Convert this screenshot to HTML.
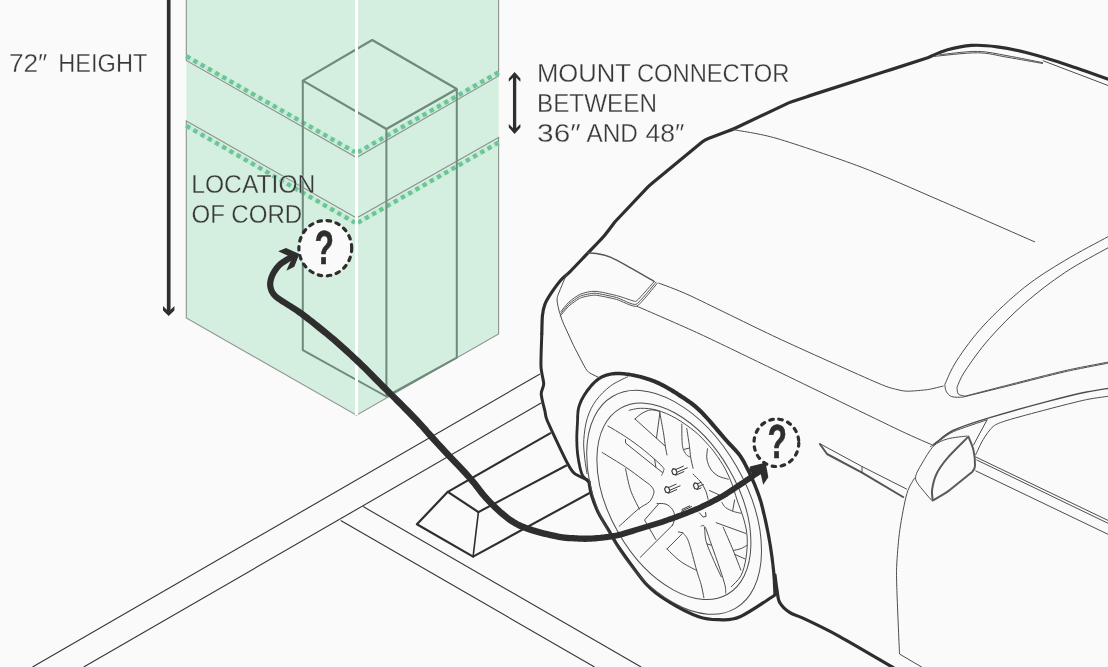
<!DOCTYPE html>
<html lang="en">
<head>
<meta charset="utf-8">
<title>Wall Connector mounting location</title>
<style>
html,body{margin:0;padding:0;background:#fafafa;}
body{width:1108px;height:667px;overflow:hidden;font-family:"Liberation Sans",sans-serif;}
svg{display:block;}
svg{will-change:transform;}
</style>
</head>
<body>
<svg width="1108" height="667" viewBox="0 0 1108 667">
<rect width="1108" height="667" fill="#fafafa"/>
<g id="wall">
<path d="M186.3 -2L356.5 -2L356.5 415.2L186.3 318Z" fill="#d4eedf"/>
<path d="M356.5 -2L498.6 -2L498.6 334L356.5 415.3Z" fill="#d4eedf"/>
<path d="M186.3 -2L186.3 60.5L356.5 157.5L498.6 76L498.6 -2" fill="none" stroke="#8e9390" stroke-width="1.1" />
<path d="M356.5 218L186.3 121L186.3 318L356.5 415.2L498.6 334L498.6 137.5Z" fill="none" stroke="#8e9390" stroke-width="1.1" />
<path d="M186.3 56.2L356.5 153.0L498.6 72.3" fill="none" stroke="#c6ecd8" stroke-width="4.4" />
<path d="M186.3 56.2L355.0 152.2" fill="none" stroke="#6cc595" stroke-width="4.4" stroke-dasharray="4.4 3.9"/>
<path d="M498.6 72.3L358.0 152.2" fill="none" stroke="#6cc595" stroke-width="4.4" stroke-dasharray="4.4 3.9"/>
<path d="M186.3 125.8L356.5 223.5L498.6 142.5" fill="none" stroke="#c6ecd8" stroke-width="4.4" />
<path d="M186.3 125.8L355.0 222.7" fill="none" stroke="#6cc595" stroke-width="4.4" stroke-dasharray="4.4 3.9"/>
<path d="M498.6 142.5L358.0 222.7" fill="none" stroke="#6cc595" stroke-width="4.4" stroke-dasharray="4.4 3.9"/>
<path d="M302.8 80.6L372.2 40.0L456.8 89.0L386.4 129.0Z" fill="none" stroke="#6e8a7b" stroke-width="2.2" stroke-linejoin="round"/>
<path d="M302.8 80.6L302.8 350.2L386.4 396.5L456.8 357.7L456.8 89M386.4 129L386.4 396.5" fill="none" stroke="#6e8a7b" stroke-width="2" stroke-linejoin="round"/>
<path d="M356.5 -2L356.5 415" fill="none" stroke="#ffffff" stroke-width="3" />
</g>
<g id="ground">
<path d="M32.5 667.0L540.0 374.0" fill="none" stroke="#333" stroke-width="1.1" />
<path d="M83.7 667.0L541.5 402.7" fill="none" stroke="#333" stroke-width="1.1" />
<path d="M340.7 520.5L594.5 667" fill="none" stroke="#333" stroke-width="1.1" />
<path d="M363.2 506.6L641.1 667" fill="none" stroke="#333" stroke-width="1.1" />
<path d="M478.4 512.1L447.8 491.8L416.9 524.3L473.1 556.6" fill="none" stroke="#2e2e2e" stroke-width="2.2" stroke-linejoin="round" stroke-linecap="round"/>
<path d="M478.4 512.1L473.1 556.6" fill="none" stroke="#2e2e2e" stroke-width="1.6" stroke-linecap="round"/>
<path d="M447.8 491.8L550.9 432.9" fill="none" stroke="#2e2e2e" stroke-width="2.1" />
<path d="M478.4 512.1L566.8 465.3" fill="none" stroke="#2e2e2e" stroke-width="2.1" />
<path d="M473.1 556.6L589.6 493" fill="none" stroke="#2e2e2e" stroke-width="2.1" />
</g>
<g id="car">
<path d="M541.8 334.0C541.9 331.6 542.0 319.8 542.4 315.8C542.8 311.8 543.7 307.4 544.9 304.3C546.1 301.2 549.3 296.0 551.5 292.7C553.7 289.4 559.0 282.2 561.4 279.5C563.8 276.8 566.1 275.6 569.6 272.1C573.1 268.6 583.3 257.8 587.8 253.1C592.3 248.4 600.0 240.6 603.6 236.5C607.2 232.4 613.3 223.9 614.8 222.0L614.8 222.0L646.8 188.2Q649.6 185.3 652.7 182.8L702.1 142.1Q705.2 139.6 709.0 138.2L728.2 131.1Q732.0 129.7 735.6 128.0L785.0 104.6Q788.6 102.9 792.4 101.6L806.2 96.9Q810.0 95.6 813.8 94.4L884.2 71.8Q888.0 70.6 891.8 69.4L927.7 57.7L927.7 57.7C930.7 56.5 941.0 51.6 947.6 49.8C954.2 48.0 964.0 45.9 971.4 45.4C978.8 44.9 988.9 45.7 997.2 46.8C1005.5 47.9 1016.6 50.1 1027.0 52.8C1037.4 55.5 1054.0 60.5 1066.7 64.7C1079.5 68.9 1105.2 78.1 1112.0 80.5" fill="none" stroke="#2e2e2e" stroke-width="3.2" stroke-linejoin="round" stroke-linecap="round"/>
<path d="M541.8 334.0C541.7 338.3 540.7 359.8 541.0 366.5C541.3 373.2 543.7 380.3 543.7 384.0C543.7 387.7 541.0 390.3 541.2 394.0C541.4 397.7 544.2 408.0 545.0 411.5C545.8 415.0 545.1 415.4 547.0 420.0C548.9 424.6 556.0 439.7 558.9 445.8C561.8 451.9 566.7 462.0 568.8 465.7C570.9 469.4 572.3 471.7 574.7 473.6C577.1 475.5 584.8 478.5 586.7 479.6C588.6 480.7 588.7 481.3 589.0 481.6" fill="none" stroke="#2e2e2e" stroke-width="3" stroke-linejoin="round" stroke-linecap="round"/>
<path d="M590.0 481.0L589.6 480.6L589.1 480.2L588.5 479.7L587.9 479.2L587.3 478.7L586.7 478.1L586.0 477.5L585.3 476.8L584.7 476.0L584.2 475.2L583.6 474.4L583.2 473.4L582.8 472.4L582.4 471.1L582.0 469.8L581.6 468.3L581.2 466.8L580.9 465.2L580.6 463.6L580.3 462.0L580.0 460.4L579.7 458.8L579.5 457.2L579.3 455.8L579.1 454.4L578.9 453.1L578.8 451.7L578.7 450.4L578.5 449.1L578.5 447.8L578.4 446.5L578.3 445.2L578.3 443.9L578.3 442.6L578.2 441.3L578.2 440.0L578.2 438.7L578.2 437.4L578.2 436.0L578.2 434.7L578.3 433.4L578.3 432.1L578.4 430.8L578.5 429.5L578.6 428.1L578.6 426.8L578.7 425.4L578.8 424.1L578.9 422.7L578.9 421.3L579.0 419.8L579.0 418.4L579.1 417.0L579.1 415.5L579.2 414.1L579.3 412.7L579.5 411.4L579.7 410.1L579.9 408.8L580.2 407.6L580.6 406.4L580.9 405.2L581.4 404.0L581.9 402.9L582.4 401.7L582.9 400.6L583.5 399.5L584.1 398.4L584.7 397.3L585.4 396.2L586.1 395.2L586.8 394.1L587.5 393.1L588.2 392.0L589.0 390.9L589.8 389.9L590.6 388.9L591.5 387.8L592.3 386.8L593.2 385.9L594.0 385.0L594.9 384.1L595.7 383.3L596.5 382.6L597.3 381.9L598.1 381.2L598.8 380.7L599.6 380.1L600.3 379.7L601.0 379.2L601.8 378.8L602.5 378.4L603.3 378.0L604.1 377.7L605.0 377.4L605.9 377.1L606.9 376.8L607.9 376.5L608.9 376.2L609.9 376.0L610.9 375.8L612.0 375.6L613.1 375.5L614.2 375.4L615.4 375.3L616.6 375.2L617.9 375.2L619.2 375.2L620.6 375.3L622.1 375.4L623.7 375.6L625.2 375.8L626.9 376.0L628.5 376.2L630.2 376.5L631.9 376.8L633.6 377.2L635.3 377.5L637.0 377.9L638.6 378.3L640.3 378.8L641.9 379.2L643.5 379.7L645.1 380.2L646.7 380.7L648.3 381.2L650.0 381.8L651.6 382.4L653.2 383.1L654.8 383.8L656.5 384.5L658.1 385.3L659.8 386.1L661.5 386.9L663.2 387.8L665.0 388.8L666.7 389.8L668.4 390.8L670.2 391.8L671.9 392.9L673.7 394.0L675.4 395.1L677.1 396.2L678.8 397.4L680.5 398.5L682.2 399.5L683.8 400.6L685.4 401.7L686.9 402.7L688.5 403.8L690.1 405.0L691.7 406.2L693.3 407.5L695.0 408.9L696.7 410.5L698.5 412.2L700.5 414.1L702.5 416.3L704.7 418.6L707.0 421.1L709.3 423.8L711.6 426.4L713.9 429.1L716.1 431.7L718.3 434.2L720.3 436.6L722.2 438.8L724.0 440.8L725.6 442.6L727.1 444.2L728.5 445.7L729.8 447.0L731.0 448.3L732.1 449.5L733.2 450.6L734.2 451.7L735.2 452.7L736.1 453.8L737.1 454.9L738.0 456.1L738.9 457.3L739.7 458.5L740.4 459.7L741.2 460.9L741.8 462.0L742.5 463.2L743.1 464.4L743.8 465.6L744.4 466.9L745.0 468.1L745.7 469.5L746.4 470.8L747.1 472.2L747.8 473.6L748.5 475.0L749.2 476.5L749.9 478.0L750.6 479.5L751.2 481.0L751.9 482.6L752.6 484.1L753.2 485.6L753.8 487.1L754.4 488.6L755.0 490.1L755.5 491.4L756.0 492.8L756.5 494.1L757.0 495.4L757.5 496.7L757.9 498.0L758.4 499.5L758.9 501.0L759.4 502.6L759.9 504.4L760.4 506.4L761.0 508.6L761.5 510.9L762.1 513.4L762.8 516.0L763.4 518.7L764.0 521.5L764.6 524.3L765.2 527.1L765.8 530.0L766.4 532.8L766.9 535.6L767.4 538.3L767.9 541.0L768.4 543.7L768.8 546.4L769.2 549.2L769.6 551.9L770.0 554.7L770.4 557.4L770.7 560.1L771.1 562.7L771.4 565.3L771.6 567.8L771.9 570.2L772.1 572.6L772.3 575.0L772.5 577.4L772.7 579.9L772.8 582.3L772.9 584.6L773.0 586.8L773.1 588.8L773.2 590.7L773.3 592.4L773.3 593.9L773.4 595.1L776.6 594.9L776.5 593.7L776.5 592.3L776.4 590.6L776.3 588.7L776.2 586.6L776.1 584.4L776.0 582.1L775.9 579.7L775.7 577.2L775.5 574.7L775.3 572.3L775.1 569.8L774.8 567.4L774.5 564.9L774.2 562.3L773.9 559.6L773.6 557.0L773.2 554.2L772.8 551.5L772.4 548.7L772.0 545.9L771.5 543.2L771.0 540.4L770.6 537.7L770.1 535.0L769.5 532.2L769.0 529.4L768.4 526.5L767.8 523.6L767.2 520.8L766.6 518.0L765.9 515.3L765.3 512.6L764.7 510.1L764.2 507.8L763.6 505.6L763.1 503.6L762.6 501.7L762.1 500.0L761.6 498.5L761.1 497.0L760.6 495.6L760.2 494.2L759.7 492.9L759.2 491.6L758.7 490.2L758.1 488.8L757.6 487.4L757.0 485.9L756.4 484.3L755.7 482.8L755.1 481.2L754.4 479.7L753.8 478.1L753.1 476.6L752.4 475.0L751.7 473.5L751.0 472.1L750.3 470.6L749.6 469.2L748.9 467.8L748.3 466.5L747.7 465.2L747.0 464.0L746.4 462.7L745.8 461.5L745.1 460.2L744.4 459.0L743.6 457.7L742.8 456.5L742.0 455.2L741.0 453.9L740.1 452.6L739.1 451.4L738.1 450.2L737.1 449.1L736.1 447.9L735.0 446.8L733.8 445.6L732.6 444.3L731.4 443.0L730.0 441.5L728.6 439.9L727.0 438.2L725.3 436.2L723.4 434.0L721.3 431.6L719.2 429.1L717.0 426.4L714.7 423.7L712.4 421.1L710.1 418.4L707.8 415.9L705.6 413.4L703.5 411.2L701.5 409.2L699.6 407.4L697.7 405.8L696.0 404.3L694.3 402.9L692.6 401.6L690.9 400.4L689.3 399.3L687.7 398.2L686.1 397.1L684.5 396.0L682.8 395.0L681.2 393.8L679.4 392.7L677.7 391.6L675.9 390.5L674.1 389.3L672.3 388.3L670.5 387.2L668.7 386.2L667.0 385.2L665.2 384.2L663.4 383.3L661.6 382.4L659.9 381.5L658.1 380.8L656.4 380.0L654.7 379.3L653.0 378.7L651.3 378.1L649.6 377.5L647.9 377.0L646.3 376.4L644.6 376.0L642.9 375.5L641.2 375.1L639.6 374.7L637.9 374.3L636.1 373.9L634.4 373.5L632.6 373.2L630.8 372.9L629.1 372.6L627.4 372.4L625.7 372.2L624.0 372.0L622.4 371.9L620.8 371.8L619.4 371.8L617.9 371.7L616.5 371.8L615.2 371.8L613.9 371.9L612.7 372.1L611.5 372.3L610.3 372.5L609.2 372.7L608.1 373.0L607.0 373.3L605.9 373.6L604.9 373.9L603.9 374.3L602.9 374.7L602.0 375.1L601.1 375.5L600.2 376.0L599.4 376.5L598.6 377.0L597.7 377.6L596.9 378.2L596.1 378.8L595.3 379.5L594.5 380.2L593.6 381.1L592.7 381.9L591.8 382.8L590.9 383.8L590.0 384.8L589.1 385.9L588.3 386.9L587.4 388.0L586.6 389.1L585.7 390.3L585.0 391.4L584.2 392.5L583.5 393.6L582.9 394.7L582.2 395.8L581.5 396.9L580.9 398.1L580.3 399.3L579.7 400.5L579.2 401.7L578.7 402.9L578.2 404.2L577.8 405.5L577.4 406.8L577.1 408.2L576.8 409.6L576.6 411.0L576.5 412.5L576.4 413.9L576.3 415.4L576.2 416.9L576.2 418.3L576.2 419.7L576.1 421.2L576.1 422.6L576.0 423.9L575.9 425.3L575.8 426.6L575.8 428.0L575.7 429.3L575.6 430.7L575.5 432.0L575.5 433.3L575.4 434.7L575.4 436.0L575.4 437.3L575.4 438.7L575.4 440.0L575.4 441.4L575.5 442.7L575.5 444.0L575.5 445.3L575.6 446.6L575.7 448.0L575.8 449.3L575.9 450.6L576.0 452.0L576.1 453.4L576.3 454.8L576.5 456.2L576.7 457.7L577.0 459.2L577.2 460.8L577.5 462.5L577.8 464.1L578.2 465.8L578.5 467.4L578.9 469.0L579.3 470.5L579.7 472.0L580.1 473.3L580.6 474.6L581.2 475.7L581.8 476.8L582.5 477.7L583.3 478.6L584.0 479.4L584.7 480.2L585.5 480.8L586.1 481.4L586.8 481.9L587.3 482.3L587.7 482.7L588.0 483.0Z" fill="#2e2e2e"/>
<path d="M775.0 595.0C769.2 598.6 749.4 612.7 740.0 616.8C730.6 620.9 725.5 619.7 718.6 619.7C711.7 619.7 707.0 619.8 698.7 616.8C690.4 613.8 677.6 607.2 669.0 601.9C660.4 596.6 655.2 593.8 647.0 585.0C638.8 576.2 626.1 557.6 620.0 549.0C613.9 540.4 614.1 539.2 610.5 533.2C606.9 527.2 601.8 519.6 598.6 513.3C595.5 507.0 593.2 500.7 591.6 495.5C590.0 490.3 589.4 484.2 589.0 482.0" fill="none" stroke="#2e2e2e" stroke-width="3.2" stroke-linejoin="round" stroke-linecap="round"/>
<path d="M775.0 575.0C775.3 577.5 776.2 585.4 777.0 590.0C777.8 594.6 777.6 598.8 779.7 602.5C781.8 606.2 785.6 609.8 789.6 612.4C793.6 615.0 795.2 614.4 803.5 618.4C811.8 622.4 824.4 628.1 839.3 636.3C854.2 644.5 884.0 662.3 893.0 667.5" fill="none" stroke="#2e2e2e" stroke-width="3.2" stroke-linejoin="round" stroke-linecap="round"/>
<ellipse cx="674.1" cy="502.3" rx="122.5" ry="72.0" transform="rotate(60.0 674.1 502.3)" fill="none" stroke="#4d4d4d" stroke-width="1" />
<ellipse cx="673.9" cy="501.3" rx="107.3" ry="63.8" transform="rotate(60.0 673.9 501.3)" fill="none" stroke="#4d4d4d" stroke-width="1" />
<path d="M627.9 376.6C625.0 378.2 615.8 382.0 610.5 386.0C605.2 390.0 600.0 395.1 596.1 400.4C592.2 405.7 589.5 411.3 587.4 417.8C585.3 424.3 584.3 433.0 583.8 439.4C583.3 445.8 584.0 450.2 584.5 456.0C585.0 461.8 586.6 471.0 587.0 474.0" fill="none" stroke="#4d4d4d" stroke-width="1" />
<path d="M628.7 410.4C630.7 410.0 636.0 408.3 640.7 408.3C645.4 408.3 651.2 408.5 657.1 410.2C663.0 411.9 669.8 414.8 676.1 418.4C682.4 422.0 689.7 427.3 695.0 431.6C700.3 435.9 704.4 440.7 707.7 444.3C711.0 447.9 712.1 449.1 715.0 453.1C717.9 457.1 722.1 463.2 724.9 468.3C727.7 473.4 730.0 478.7 732.0 484.0C734.0 489.3 735.1 494.0 737.1 500.0C739.1 506.0 742.3 513.7 744.0 520.0C745.7 526.3 746.9 531.6 747.2 537.9C747.5 544.2 747.0 551.7 746.0 558.0C745.0 564.3 743.4 571.0 740.9 575.8C738.4 580.6 732.6 585.1 731.0 587.0" fill="none" stroke="#4d4d4d" stroke-width="1" />
<path d="M635.0 419.0C636.2 418.1 639.3 414.8 642.0 413.3C644.6 411.8 647.9 410.2 650.8 409.9C653.8 409.6 658.2 411.2 659.7 411.4" fill="none" stroke="#4d4d4d" stroke-width="1" stroke-linejoin="round" stroke-linecap="round"/>
<path d="M635.0 419.0L665.3 446.2" fill="none" stroke="#4d4d4d" stroke-width="1" stroke-linejoin="round" stroke-linecap="round"/>
<path d="M659.7 412.1C660.3 415.5 662.5 427.2 663.5 432.9C664.4 438.6 664.8 442.5 665.3 446.2C665.9 449.9 666.7 453.5 667.0 455.0" fill="none" stroke="#4d4d4d" stroke-width="1" stroke-linejoin="round" stroke-linecap="round"/>
<path d="M659.9 412.7L656.5 438.0" fill="none" stroke="#4d4d4d" stroke-width="1" stroke-linejoin="round" stroke-linecap="round"/>
<path d="M681.8 424.1C681.9 427.6 681.7 440.5 682.4 445.5C683.1 450.6 684.9 452.5 686.2 454.4C687.5 456.3 689.4 456.5 690.0 456.9" fill="none" stroke="#4d4d4d" stroke-width="1" stroke-linejoin="round" stroke-linecap="round"/>
<path d="M686.8 428.5C687.2 431.3 688.7 440.8 689.4 445.5C690.0 450.3 690.0 453.1 690.6 456.9C691.2 460.7 692.7 466.4 693.1 468.3" fill="none" stroke="#4d4d4d" stroke-width="1" stroke-linejoin="round" stroke-linecap="round"/>
<path d="M684.3 449.3L689.4 448.1" fill="none" stroke="#4d4d4d" stroke-width="1" stroke-linejoin="round" stroke-linecap="round"/>
<path d="M693.0 474.1C694.2 475.4 698.4 479.0 700.5 481.7C702.6 484.4 704.3 487.6 705.6 490.5C706.9 493.5 707.7 497.9 708.1 499.4" fill="none" stroke="#4d4d4d" stroke-width="1" stroke-linejoin="round" stroke-linecap="round"/>
<path d="M607.9 426.0C610.8 427.7 619.4 432.6 625.5 436.7C631.7 440.8 638.4 445.6 644.5 450.6C650.6 455.5 659.0 463.0 662.2 466.4C665.3 469.8 663.6 469.3 663.5 470.8C663.3 472.3 661.9 474.5 661.6 475.2" fill="none" stroke="#4d4d4d" stroke-width="1" stroke-linejoin="round" stroke-linecap="round"/>
<path d="M625.5 439.5L625.5 443.0L657.1 468.3L662.2 472.3" fill="none" stroke="#4d4d4d" stroke-width="1" stroke-linejoin="round" stroke-linecap="round"/>
<path d="M654.6 459.4L655.9 467.3" fill="none" stroke="#4d4d4d" stroke-width="1" stroke-linejoin="round" stroke-linecap="round"/>
<path d="M602.2 452.5C605.7 454.7 619.6 463.0 625.5 467.0C631.5 471.0 638.2 476.2 642.0 479.0C645.8 481.9 649.0 483.9 650.8 485.8C652.6 487.8 654.2 489.8 654.0 492.2C653.8 494.5 651.9 499.1 649.6 501.6C647.2 504.2 642.7 505.5 638.2 509.2C633.6 512.9 622.1 523.7 619.2 526.3" fill="none" stroke="#4d4d4d" stroke-width="1" stroke-linejoin="round" stroke-linecap="round"/>
<path d="M625.5 468.8C626.4 472.4 628.3 483.5 630.6 490.3C632.9 497.0 638.0 506.1 639.4 509.2" fill="none" stroke="#4d4d4d" stroke-width="1" stroke-linejoin="round" stroke-linecap="round"/>
<path d="M657.1 503.5C658.6 503.6 663.5 503.2 666.0 504.2C668.5 505.1 670.8 507.3 672.3 509.2C673.8 511.1 674.4 514.5 674.8 515.5" fill="none" stroke="#4d4d4d" stroke-width="1" stroke-linejoin="round" stroke-linecap="round"/>
<path d="M658.4 504.2L644.5 520.0L655.9 539.6" fill="none" stroke="#4d4d4d" stroke-width="1" stroke-linejoin="round" stroke-linecap="round"/>
<path d="M672.7 525.0L640.4 557.2" fill="none" stroke="#4d4d4d" stroke-width="1" stroke-linejoin="round" stroke-linecap="round"/>
<path d="M674.8 515.5C674.7 516.4 674.6 518.9 674.2 520.6C673.8 522.3 672.6 524.9 672.3 525.7C672.0 526.4 672.6 525.1 672.7 525.0" fill="none" stroke="#4d4d4d" stroke-width="1" stroke-linejoin="round" stroke-linecap="round"/>
<path d="M678.3 531.9L682.8 532.8" fill="none" stroke="#4d4d4d" stroke-width="1" stroke-linejoin="round" stroke-linecap="round"/>
<path d="M682.1 533.8L667.0 549.0" fill="none" stroke="#4d4d4d" stroke-width="1" stroke-linejoin="round" stroke-linecap="round"/>
<path d="M667.0 549.0C669.3 551.1 675.9 558.1 680.9 561.6C685.8 565.2 694.0 569.0 696.7 570.5" fill="none" stroke="#4d4d4d" stroke-width="1" stroke-linejoin="round" stroke-linecap="round"/>
<path d="M682.8 532.8C683.7 534.3 686.1 535.2 688.5 541.4C690.8 547.7 694.6 563.3 696.7 570.5C698.8 577.6 699.9 579.9 701.1 584.4C702.3 588.9 703.4 595.4 703.9 597.7" fill="none" stroke="#4d4d4d" stroke-width="1" stroke-linejoin="round" stroke-linecap="round"/>
<path d="M701.1 526.3C701.6 526.3 703.4 524.0 704.2 526.5C705.1 529.0 704.6 535.8 706.1 541.4C707.7 547.1 711.2 554.5 713.7 560.4C716.2 566.3 720.0 574.1 721.3 576.8" fill="none" stroke="#4d4d4d" stroke-width="1" stroke-linejoin="round" stroke-linecap="round"/>
<path d="M705.5 527.5C706.5 530.3 708.8 537.0 711.2 544.0C713.6 550.9 717.7 562.3 720.0 569.2C722.4 576.2 724.1 581.7 725.1 585.7C726.0 589.7 725.6 592.0 725.7 593.2" fill="none" stroke="#4d4d4d" stroke-width="1" stroke-linejoin="round" stroke-linecap="round"/>
<path d="M707.4 544.0L711.2 545.2" fill="none" stroke="#4d4d4d" stroke-width="1" stroke-linejoin="round" stroke-linecap="round"/>
<path d="M716.2 522.7L745.9 533.5" fill="none" stroke="#4d4d4d" stroke-width="1" stroke-linejoin="round" stroke-linecap="round"/>
<path d="M723.2 527.2C724.9 531.1 730.3 543.4 733.3 550.5C736.2 557.7 739.6 566.9 740.9 570.1" fill="none" stroke="#4d4d4d" stroke-width="1" stroke-linejoin="round" stroke-linecap="round"/>
<path d="M733.3 550.5C734.6 550.2 738.7 549.5 740.9 548.6C743.1 547.8 745.6 546.0 746.6 545.5" fill="none" stroke="#4d4d4d" stroke-width="1" stroke-linejoin="round" stroke-linecap="round"/>
<path d="M734.6 554.3L744.7 558.8" fill="none" stroke="#4d4d4d" stroke-width="1" stroke-linejoin="round" stroke-linecap="round"/>
<path d="M707.5 448.8C707.4 450.5 706.3 455.6 706.9 459.0C707.4 462.3 708.8 466.2 710.7 469.1C712.5 471.9 715.3 474.3 718.2 476.0C721.2 477.7 726.7 478.6 728.3 479.2" fill="none" stroke="#4d4d4d" stroke-width="1" stroke-linejoin="round" stroke-linecap="round"/>
<path d="M721.9 502.5C722.5 503.4 723.8 506.1 725.7 507.6C727.6 509.1 730.8 510.4 733.3 511.4C735.8 512.3 739.6 513.0 740.9 513.3" fill="none" stroke="#4d4d4d" stroke-width="1" stroke-linejoin="round" stroke-linecap="round"/>
<path d="M734.6 500.0L732.7 510.7" fill="none" stroke="#4d4d4d" stroke-width="1" stroke-linejoin="round" stroke-linecap="round"/>
<path d="M709.4 490.5L720.8 495.6" fill="none" stroke="#4d4d4d" stroke-width="1" stroke-linejoin="round" stroke-linecap="round"/>
<path d="M677.0 472.6L675.7 475.0L673.0 474.2L671.8 471.0L673.1 468.6L675.8 469.4Z" fill="none" stroke="#3a3a3a" stroke-width="1.2" stroke-linejoin="round"/>
<path d="M676.1 469.4l7.2 -3.2M677.6 472.0l9.7 -4.2M676.2 475.0l7.7 -3.4" fill="none" stroke="#3a3a3a" stroke-width="1" stroke-linecap="round"/>
<path d="M669.8 490.6L668.5 493.0L665.8 492.2L664.6 489.0L665.9 486.6L668.6 487.4Z" fill="none" stroke="#3a3a3a" stroke-width="1.2" stroke-linejoin="round"/>
<path d="M668.9 487.4l7.2 -3.2M670.4 490.0l9.7 -4.2M669.0 493.0l7.7 -3.4" fill="none" stroke="#3a3a3a" stroke-width="1" stroke-linecap="round"/>
<path d="M698.6 486.9L697.3 489.3L694.6 488.5L693.4 485.3L694.7 482.9L697.4 483.7Z" fill="none" stroke="#3a3a3a" stroke-width="1.2" stroke-linejoin="round"/>
<path d="M697.7 483.7l3.1 -1.4M699.2 486.3l4.1 -1.8M697.8 489.3l3.3 -1.4" fill="none" stroke="#3a3a3a" stroke-width="1" stroke-linecap="round"/>
<path d="M681.1 511.4l10.8 -5M681.6 509.6l8.5 -3.9M682.8 513l9.6 -4.4" fill="none" stroke="#3a3a3a" stroke-width="1" />
<path d="M699.2 512.6L703.0 517.1L706.1 516.4L705.5 512.0" fill="none" stroke="#4d4d4d" stroke-width="1" />
<path d="M587.8 253.0C589.2 253.1 592.5 252.8 596.4 253.5C600.2 254.2 605.1 254.9 610.9 257.4C616.7 259.8 623.8 264.2 631.0 268.2C638.2 272.2 650.3 279.3 654.2 281.5" fill="none" stroke="#555" stroke-width="1.4" stroke-linejoin="round" stroke-linecap="round"/>
<path d="M654.2 281.5C653.0 282.9 647.3 289.5 645.0 292.0C642.7 294.5 638.6 299.3 637.0 300.5C635.4 301.7 635.9 301.6 633.2 300.9C630.5 300.2 621.7 296.9 616.6 295.6C611.5 294.3 599.8 291.5 595.0 291.3C590.2 291.1 584.0 292.8 580.5 294.2C577.0 295.6 571.6 299.8 569.0 302.1C566.4 304.4 562.1 310.2 561.0 311.5" fill="none" stroke="#555" stroke-width="1" stroke-linejoin="round" stroke-linecap="round"/>
<path d="M656.0 282.2C654.3 284.0 639.4 303.0 636.1 304.3C632.8 305.6 620.0 298.4 616.6 297.5C613.2 296.6 598.0 293.3 595.0 293.2C592.0 293.1 582.7 295.1 580.5 296.0C578.3 296.9 570.7 302.5 569.0 304.0C567.3 305.5 561.3 312.9 560.6 313.7" fill="none" stroke="#555" stroke-width="1" stroke-linejoin="round" stroke-linecap="round"/>
<path d="M657.5 283.0C655.8 284.9 640.2 304.8 636.8 306.2C633.4 307.6 620.1 300.3 616.6 299.4C613.1 298.5 598.0 295.2 595.0 295.1C592.0 295.0 582.7 297.0 580.5 297.9C578.3 298.8 570.7 304.4 569.0 305.9C567.3 307.4 561.0 315.1 560.3 315.9" fill="none" stroke="#555" stroke-width="1" stroke-linejoin="round" stroke-linecap="round"/>
<path d="M567.0 273.5C565.6 276.7 560.5 288.4 558.9 292.8C557.2 297.2 557.1 297.1 557.1 300.0C557.1 302.9 558.3 307.4 558.9 310.0C559.5 312.6 560.4 314.9 560.7 315.9" fill="none" stroke="#4d4d4d" stroke-width="1" stroke-linejoin="round" stroke-linecap="round"/>
<path d="M560.7 315.9L561.7 319.0Q562.7 321.8 563.9 324.5L572.4 343.0Q573.6 345.7 575.0 348.4L584.1 365.8Q585.5 368.5 587.0 370.5L587.0 370.5Q588.5 372.5 591.2 373.8L599.4 377.8" fill="none" stroke="#4d4d4d" stroke-width="1" stroke-linejoin="round" stroke-linecap="round"/>
<path d="M658.5 283.0C662.2 284.5 676.2 289.2 690.0 295.6C703.8 302.0 755.2 327.5 777.0 337.7C798.8 347.9 863.0 376.7 877.0 382.7C891.0 388.7 893.4 388.5 897.0 389.5C900.6 390.5 904.3 391.2 907.9 391.2C911.5 391.2 923.5 390.2 927.7 389.6C931.9 389.0 941.7 386.4 943.6 386.0" fill="none" stroke="#4d4d4d" stroke-width="1" />
<path d="M636.8 306.2C644.2 309.4 683.6 326.4 700.0 334.0C716.4 341.6 753.8 359.8 777.0 371.0C800.2 382.2 880.6 421.3 898.9 430.0C917.2 438.7 929.6 443.7 933.7 445.5" fill="none" stroke="#4d4d4d" stroke-width="1" />
<path d="M732.5 129.5C738.4 130.7 759.9 133.5 777.0 138.5C794.1 143.5 839.4 158.8 861.0 167.0C882.6 175.2 915.8 190.0 939.0 200.0C962.2 210.0 1022.2 236.4 1035.0 242.0" fill="none" stroke="#4d4d4d" stroke-width="1" />
<path d="M1114.0 233.6C1113.0 234.1 1116.2 232.2 1108.0 236.7C1099.8 241.2 1078.7 252.1 1064.8 260.5C1050.9 268.9 1037.9 276.6 1024.4 287.4C1010.9 298.2 995.1 313.1 983.9 325.2C972.7 337.3 963.5 350.3 957.0 360.2C950.5 370.1 946.8 380.4 944.8 384.5L944.8 384.5C945.0 385.6 945.1 389.3 946.2 391.3C947.3 393.3 948.9 395.6 951.6 396.6C954.3 397.6 960.6 397.1 962.4 397.2L962.4 397.2C968.9 395.6 997.2 388.7 1010.9 385.3C1024.6 381.9 1051.3 374.9 1064.8 371.8C1078.3 368.7 1105.7 363.7 1112.0 362.4" fill="none" stroke="#4d4d4d" stroke-width="1" stroke-linejoin="round" stroke-linecap="round"/>
<path d="M1114.0 244.5C1113.0 245.1 1116.2 243.1 1108.0 247.8C1099.8 252.5 1078.7 263.3 1064.8 272.6C1050.9 281.9 1037.0 292.6 1024.4 303.6C1011.8 314.6 999.2 327.5 989.3 338.7C979.4 349.9 970.5 362.9 965.1 371.0C959.7 379.1 958.4 384.5 957.0 387.2L957.0 387.2C957.2 388.3 957.0 392.5 958.3 394.0C959.6 395.5 963.9 395.8 965.0 396.2L965.0 396.2C971.1 394.6 997.6 387.7 1010.9 384.3C1024.2 380.9 1051.3 373.8 1064.8 370.7C1078.3 367.6 1105.7 362.6 1112.0 361.4" fill="none" stroke="#4d4d4d" stroke-width="1" stroke-linejoin="round" stroke-linecap="round"/>
<path d="M933.7 444.5C934.2 444.1 935.0 443.2 937.6 441.3C940.2 439.4 946.9 433.4 953.5 430.3C960.1 427.2 974.8 422.2 987.3 418.4C999.8 414.6 1033.7 405.1 1046.9 401.6C1060.1 398.1 1077.9 393.8 1086.6 392.0C1095.3 390.2 1108.6 388.4 1112.0 387.8" fill="none" stroke="#4d4d4d" stroke-width="1.5" />
<path d="M930.0 447.0C931.3 446.1 936.9 442.6 940.0 440.5C943.1 438.4 947.2 434.4 953.5 431.6C959.8 428.8 982.8 421.3 987.3 419.7" fill="none" stroke="#4d4d4d" stroke-width="1" />
<path d="M987.3 419.4L973.4 445.2" fill="none" stroke="#4d4d4d" stroke-width="1" />
<path d="M975.4 455.2C976.5 453.1 980.9 443.1 983.3 439.3C985.7 435.5 990.0 428.9 993.2 426.4C996.4 423.9 999.9 422.7 1007.1 420.4C1014.3 418.1 1036.3 412.3 1046.9 409.5C1057.5 406.7 1077.9 401.4 1086.6 399.6C1095.3 397.8 1108.6 396.3 1112.0 395.8" fill="none" stroke="#4d4d4d" stroke-width="1" />
<path d="M967.4 436.0C964.4 436.4 952.7 437.4 947.6 438.9C942.5 440.4 937.6 442.2 933.7 445.9C929.8 449.6 924.5 459.3 921.8 463.8C919.1 468.3 916.4 472.7 915.8 475.7C915.2 478.7 915.4 479.9 917.8 483.6C920.2 487.3 929.6 498.0 931.7 500.5" fill="none" stroke="#4d4d4d" stroke-width="1" />
<path d="M968.4 436.6C965.3 439.8 952.4 452.2 947.6 457.8C942.8 463.4 938.9 468.9 936.6 473.7C934.3 478.5 932.7 485.6 932.1 489.6C931.5 493.6 932.6 498.9 932.7 500.5L932.7 500.5C933.9 499.8 944.3 494.0 947.6 491.6C950.9 489.2 970.3 473.4 972.4 471.7L972.4 471.7C972.8 470.8 974.9 469.0 975.0 465.7C975.1 462.4 974.4 454.3 973.4 449.9C972.4 445.5 969.1 438.6 968.4 436.6Z" fill="none" stroke="#5a5a5a" stroke-width="2" stroke-linejoin="round"/>
<path d="M914.8 477.7C913.6 480.1 909.1 485.8 906.9 493.5C904.7 501.2 901.4 519.0 899.9 529.3C898.4 539.6 897.4 553.3 896.9 562.0C896.4 570.7 896.4 573.7 896.8 587.5C897.2 601.3 899.1 644.0 899.5 654.0" fill="none" stroke="#4d4d4d" stroke-width="1" />
<path d="M899.5 654L925 669" fill="none" stroke="#4d4d4d" stroke-width="1" />
<path d="M819.5 443.5L827.0 454.0L862.0 472.7L903.9 497.5" fill="none" stroke="#555" stroke-width="2" stroke-linejoin="round"/>
<path d="M819.5 443.5L862.0 466.5L906.9 489.2" fill="none" stroke="#4d4d4d" stroke-width="1" />
<path d="M862 466.5L862 472.7" fill="none" stroke="#4d4d4d" stroke-width="1" />
<path d="M975.4 456.8L1112 522.3" fill="none" stroke="#4d4d4d" stroke-width="1" />
<path d="M976.4 459.8L1112 525.2" fill="none" stroke="#4d4d4d" stroke-width="1" />
<path d="M975.4 470.7L1112 536.2" fill="none" stroke="#4d4d4d" stroke-width="1" />
<path d="M939.6 54.7C945.9 54.2 966.2 51.2 977.4 51.4C988.6 51.6 996.1 53.8 1007.0 55.7C1017.9 57.6 1036.9 61.5 1042.9 62.7" fill="none" stroke="#4d4d4d" stroke-width="1" />
<path d="M933.0 56.5C940.4 55.9 965.1 52.7 977.4 52.8C989.7 52.9 996.1 55.4 1007.0 57.2C1017.9 59.0 1036.9 62.5 1042.9 63.5" fill="none" stroke="#4d4d4d" stroke-width="1" />
<path d="M1042.9 60.7L1112 87" fill="none" stroke="#4d4d4d" stroke-width="1" />
</g>
<g id="labels" font-family="'Liberation Sans', sans-serif" font-size="26" fill="#383838">
<text stroke="#fafafa" stroke-width="0.3"><tspan x="8.90" y="71.6" textLength="38.52" lengthAdjust="spacingAndGlyphs">72″</tspan> <tspan x="58.35" y="71.6" textLength="89.01" lengthAdjust="spacingAndGlyphs">HEIGHT</tspan></text>
<text stroke="#fafafa" stroke-width="0.3"><tspan x="536.89" y="81.8" textLength="93.53" lengthAdjust="spacingAndGlyphs">MOUNT</tspan> <tspan x="636.89" y="81.8" textLength="152.56" lengthAdjust="spacingAndGlyphs">CONNECTOR</tspan> <tspan x="537.02" y="111.6" textLength="119.92" lengthAdjust="spacingAndGlyphs">BETWEEN</tspan> <tspan x="537.09" y="141.8" textLength="43.67" lengthAdjust="spacingAndGlyphs">36″</tspan> <tspan x="586.41" y="141.8" textLength="51.41" lengthAdjust="spacingAndGlyphs">AND</tspan> <tspan x="645.52" y="141.8" textLength="38.94" lengthAdjust="spacingAndGlyphs">48″</tspan></text>
<text stroke="#d4eedf" stroke-width="0.3"><tspan x="191.24" y="193.2" textLength="124.17" lengthAdjust="spacingAndGlyphs">LOCATION</tspan> <tspan x="191.59" y="223.2" textLength="33.39" lengthAdjust="spacingAndGlyphs">OF</tspan> <tspan x="231.23" y="223.2" textLength="70.98" lengthAdjust="spacingAndGlyphs">CORD</tspan></text>
</g>
<g id="cord">
<path d="M291.7 253.8L291.6 253.8L291.5 253.9L291.3 254.0L291.0 254.1L290.6 254.2L290.3 254.4L289.8 254.5L289.4 254.8L288.9 255.0L288.3 255.3L287.8 255.6L287.2 255.9L286.6 256.3L285.9 256.7L285.2 257.1L284.4 257.6L283.6 258.1L282.7 258.7L281.8 259.2L280.9 259.8L280.1 260.5L279.2 261.1L278.4 261.8L277.6 262.5L276.8 263.3L276.1 264.0L275.5 264.8L274.8 265.5L274.2 266.3L273.6 267.1L273.0 267.9L272.4 268.8L271.9 269.6L271.4 270.4L270.9 271.2L270.5 272.0L270.0 272.9L269.6 273.7L269.3 274.6L268.9 275.4L268.6 276.3L268.3 277.1L268.1 278.0L267.8 278.8L267.6 279.7L267.5 280.5L267.3 281.3L267.2 282.2L267.1 283.0L267.1 283.8L267.1 284.6L267.1 285.4L267.2 286.1L267.3 286.9L267.4 287.6L267.6 288.4L267.8 289.1L267.9 289.7L268.2 290.4L268.4 291.1L268.6 291.7L268.9 292.4L269.2 293.0L269.5 293.6L269.9 294.2L270.3 294.8L270.7 295.4L271.1 296.0L271.5 296.5L272.0 297.1L272.5 297.6L273.0 298.2L273.6 298.7L274.2 299.3L274.8 299.8L275.4 300.3L276.1 300.7L276.7 301.2L277.4 301.7L278.1 302.1L278.7 302.5L279.4 303.0L280.1 303.4L280.8 303.9L281.5 304.4L282.3 304.8L283.0 305.3L283.8 305.8L284.6 306.3L285.3 306.8L286.1 307.2L286.9 307.7L287.7 308.2L288.6 308.8L289.4 309.3L290.3 309.9L291.2 310.5L292.0 311.0L292.8 311.6L293.5 312.1L294.3 312.6L295.1 313.1L296.0 313.7L296.9 314.4L298.0 315.2L299.2 316.1L300.5 317.1L302.0 318.2L303.7 319.5L305.6 321.0L307.7 322.6L309.9 324.3L312.1 326.1L314.5 328.0L316.9 329.9L319.4 331.9L321.8 333.9L324.2 335.8L326.6 337.8L328.9 339.7L331.1 341.6L333.3 343.6L335.6 345.5L337.8 347.5L340.1 349.5L342.3 351.5L344.5 353.5L346.8 355.5L349.0 357.6L351.2 359.7L353.5 361.8L355.7 363.9L358.0 366.0L360.2 368.2L362.4 370.3L364.6 372.5L366.8 374.7L369.0 376.9L371.2 379.2L373.4 381.4L375.7 383.7L378.0 386.0L380.3 388.4L382.7 390.7L385.1 393.1L387.6 395.6L390.1 398.1L392.7 400.6L395.2 403.2L397.8 405.8L400.4 408.3L402.9 410.9L405.5 413.4L407.9 415.9L410.3 418.4L412.6 420.8L414.8 423.1L416.9 425.4L419.0 427.6L421.0 429.8L422.9 432.0L424.9 434.2L426.8 436.4L428.8 438.7L430.8 440.9L432.9 443.2L435.0 445.6L437.3 448.0L439.6 450.6L442.1 453.2L444.7 455.9L447.3 458.7L450.0 461.5L452.6 464.3L455.3 467.1L457.9 469.8L460.4 472.5L462.8 475.0L465.0 477.5L467.1 479.8L468.9 481.9L470.6 483.9L472.2 485.8L473.6 487.7L475.0 489.5L476.4 491.2L477.7 492.9L479.0 494.7L480.4 496.4L481.9 498.1L483.4 499.9L485.0 501.6L486.8 503.4L488.5 505.2L490.3 507.0L492.2 508.9L494.1 510.7L496.0 512.5L497.9 514.2L499.8 515.9L501.7 517.6L503.6 519.1L505.5 520.6L507.3 521.9L509.1 523.2L510.7 524.3L512.4 525.3L514.0 526.3L515.6 527.1L517.2 527.9L518.8 528.7L520.5 529.4L522.2 530.1L524.0 530.8L525.9 531.5L527.9 532.3L530.2 533.0L532.6 533.8L535.2 534.5L537.9 535.3L540.6 536.0L543.4 536.7L546.2 537.3L548.9 537.9L551.5 538.5L553.9 539.1L556.2 539.5L558.3 539.9L560.2 540.3L561.9 540.6L563.6 540.8L565.1 541.0L566.5 541.1L567.8 541.2L569.0 541.2L570.2 541.3L571.4 541.3L572.5 541.3L573.6 541.4L574.8 541.4L576.0 541.5L577.2 541.6L578.3 541.7L579.4 541.7L580.6 541.8L581.7 541.8L582.8 541.8L583.9 541.9L585.0 541.9L586.2 541.9L587.4 541.8L588.7 541.8L590.0 541.7L591.4 541.7L592.7 541.6L594.1 541.5L595.6 541.4L597.0 541.3L598.4 541.1L599.8 541.0L601.3 540.8L602.7 540.7L604.0 540.5L605.4 540.3L606.7 540.2L607.9 540.0L609.1 539.8L610.4 539.7L611.6 539.5L612.8 539.3L614.0 539.1L615.3 538.8L616.5 538.6L617.9 538.3L619.3 538.0L620.7 537.6L622.3 537.2L623.8 536.8L625.5 536.3L627.1 535.8L628.8 535.3L630.5 534.8L632.3 534.2L634.0 533.7L635.7 533.1L637.4 532.6L639.1 532.0L640.8 531.5L642.4 531.0L644.0 530.5L645.7 530.0L647.3 529.6L649.0 529.1L650.6 528.6L652.3 528.1L653.9 527.6L655.6 527.1L657.3 526.5L658.9 526.0L660.6 525.5L662.3 524.9L663.9 524.4L665.6 523.8L667.3 523.2L668.9 522.6L670.6 522.1L672.3 521.5L674.0 520.9L675.6 520.3L677.3 519.7L679.0 519.0L680.6 518.4L682.3 517.8L683.9 517.2L685.6 516.5L687.2 515.9L688.9 515.3L690.6 514.6L692.2 514.0L693.9 513.3L695.6 512.6L697.2 511.9L698.9 511.2L700.6 510.4L702.3 509.7L704.1 508.8L705.8 508.0L707.6 507.1L709.4 506.2L711.2 505.4L713.0 504.5L714.7 503.6L716.3 502.8L717.9 501.9L719.3 501.2L720.7 500.5L721.9 499.8L722.9 499.2L723.8 498.7L724.7 498.2L725.5 497.8L726.2 497.3L726.9 496.9L727.7 496.4L728.5 495.8L729.4 495.3L730.4 494.6L731.6 493.8L733.0 492.9L734.5 491.9L736.2 490.8L737.9 489.6L739.8 488.4L741.6 487.2L743.5 485.9L745.3 484.7L747.0 483.5L748.6 482.4L750.1 481.5L751.3 480.6L752.5 479.8L753.5 479.1L754.4 478.5L755.2 477.9L755.9 477.3L756.6 476.8L757.2 476.4L757.7 476.0L758.1 475.7L758.5 475.3L758.9 475.1L759.2 474.8L755.8 470.2L755.4 470.4L755.0 470.7L754.6 471.0L754.2 471.4L753.7 471.8L753.1 472.2L752.5 472.7L751.8 473.2L751.0 473.8L750.1 474.4L749.1 475.1L748.1 475.8L746.8 476.7L745.4 477.6L743.8 478.7L742.1 479.9L740.3 481.1L738.4 482.3L736.6 483.6L734.7 484.8L733.0 486.0L731.3 487.1L729.8 488.1L728.4 489.0L727.2 489.7L726.2 490.4L725.3 491.0L724.5 491.5L723.8 492.0L723.1 492.4L722.5 492.8L721.8 493.2L721.0 493.7L720.1 494.2L719.1 494.7L717.9 495.3L716.6 496.1L715.2 496.8L713.6 497.6L712.0 498.4L710.3 499.3L708.6 500.2L706.9 501.0L705.1 501.9L703.3 502.8L701.6 503.6L699.9 504.4L698.2 505.2L696.6 505.9L695.0 506.6L693.3 507.3L691.7 507.9L690.1 508.6L688.4 509.2L686.8 509.9L685.2 510.5L683.5 511.1L681.9 511.7L680.2 512.4L678.6 513.0L676.9 513.6L675.3 514.2L673.6 514.8L672.0 515.4L670.3 516.0L668.7 516.6L667.0 517.2L665.4 517.7L663.7 518.3L662.1 518.9L660.4 519.4L658.8 519.9L657.2 520.5L655.5 521.0L653.9 521.5L652.2 522.0L650.6 522.5L649.0 523.0L647.3 523.4L645.7 523.9L644.0 524.4L642.4 524.9L640.7 525.4L639.0 525.9L637.4 526.4L635.6 526.9L633.9 527.5L632.2 528.0L630.5 528.5L628.8 529.1L627.1 529.6L625.4 530.1L623.8 530.6L622.2 531.0L620.7 531.4L619.3 531.8L617.9 532.1L616.6 532.4L615.3 532.7L614.1 532.9L612.9 533.1L611.8 533.3L610.6 533.5L609.5 533.6L608.3 533.8L607.1 534.0L605.9 534.1L604.6 534.3L603.3 534.4L602.0 534.6L600.6 534.7L599.2 534.9L597.8 535.0L596.4 535.1L595.1 535.2L593.7 535.3L592.3 535.4L591.0 535.5L589.7 535.6L588.5 535.6L587.3 535.6L586.2 535.6L585.1 535.6L584.0 535.6L582.9 535.6L581.9 535.6L580.8 535.5L579.8 535.5L578.7 535.4L577.6 535.3L576.4 535.2L575.2 535.2L573.9 535.1L572.7 535.0L571.6 535.0L570.4 534.9L569.3 534.9L568.2 534.8L567.0 534.7L565.7 534.6L564.4 534.5L562.9 534.3L561.3 534.0L559.5 533.7L557.5 533.2L555.3 532.8L552.9 532.2L550.3 531.7L547.7 531.0L545.0 530.4L542.2 529.7L539.6 529.0L537.0 528.3L534.5 527.6L532.2 526.8L530.1 526.1L528.1 525.4L526.3 524.8L524.6 524.1L523.0 523.4L521.5 522.8L520.0 522.1L518.6 521.4L517.2 520.6L515.7 519.8L514.3 518.8L512.7 517.8L511.1 516.7L509.4 515.4L507.7 514.1L505.9 512.6L504.1 511.0L502.2 509.4L500.4 507.7L498.5 506.0L496.7 504.2L494.9 502.4L493.1 500.7L491.4 498.9L489.8 497.2L488.2 495.5L486.8 493.9L485.4 492.3L484.1 490.6L482.8 489.0L481.5 487.3L480.2 485.5L478.8 483.7L477.3 481.8L475.6 479.8L473.9 477.7L471.9 475.4L469.8 473.1L467.6 470.6L465.2 468.0L462.6 465.3L460.0 462.6L457.4 459.8L454.7 457.0L452.1 454.2L449.5 451.4L446.9 448.7L444.5 446.1L442.1 443.6L439.9 441.2L437.8 438.8L435.8 436.5L433.8 434.3L431.8 432.1L429.8 429.9L427.9 427.6L425.9 425.4L423.9 423.2L421.8 420.9L419.6 418.6L417.4 416.2L415.0 413.8L412.6 411.3L410.2 408.8L407.6 406.2L405.1 403.7L402.5 401.1L399.9 398.5L397.3 396.0L394.7 393.4L392.2 390.9L389.7 388.5L387.3 386.1L385.0 383.7L382.7 381.4L380.4 379.1L378.1 376.8L375.9 374.5L373.7 372.3L371.4 370.0L369.2 367.8L367.0 365.6L364.8 363.4L362.5 361.3L360.3 359.1L358.0 357.0L355.8 354.9L353.5 352.8L351.2 350.7L349.0 348.6L346.7 346.6L344.4 344.5L342.2 342.5L339.9 340.5L337.7 338.6L335.4 336.6L333.1 334.7L330.8 332.7L328.4 330.7L326.0 328.7L323.5 326.7L321.1 324.8L318.6 322.8L316.2 320.9L313.9 319.1L311.7 317.4L309.7 315.8L307.7 314.3L306.0 313.0L304.4 311.8L303.0 310.8L301.8 309.9L300.7 309.1L299.6 308.4L298.7 307.8L297.8 307.3L297.0 306.7L296.2 306.2L295.4 305.8L294.6 305.3L293.7 304.7L292.8 304.1L291.9 303.5L291.0 303.0L290.2 302.5L289.4 302.0L288.6 301.5L287.8 301.0L287.0 300.5L286.3 300.1L285.6 299.6L284.9 299.2L284.2 298.7L283.5 298.3L282.8 297.8L282.1 297.3L281.5 296.9L280.9 296.5L280.3 296.1L279.7 295.7L279.2 295.3L278.7 294.9L278.2 294.6L277.8 294.2L277.4 293.8L277.0 293.4L276.7 293.0L276.3 292.6L276.0 292.2L275.7 291.8L275.5 291.4L275.2 291.1L275.0 290.7L274.8 290.2L274.6 289.8L274.4 289.4L274.2 288.9L274.0 288.5L273.9 288.0L273.8 287.5L273.6 287.0L273.5 286.5L273.4 286.0L273.4 285.5L273.3 285.0L273.3 284.4L273.3 283.9L273.3 283.4L273.4 282.8L273.5 282.3L273.6 281.7L273.7 281.0L273.8 280.4L274.0 279.7L274.2 279.0L274.5 278.3L274.7 277.6L275.0 277.0L275.3 276.3L275.6 275.6L275.9 275.0L276.3 274.3L276.7 273.6L277.1 272.9L277.6 272.2L278.1 271.5L278.6 270.8L279.1 270.1L279.6 269.5L280.1 268.8L280.7 268.2L281.3 267.6L281.8 267.1L282.4 266.5L283.0 266.0L283.7 265.5L284.5 264.9L285.3 264.4L286.1 263.9L286.9 263.4L287.6 262.9L288.4 262.5L289.1 262.0L289.8 261.6L290.4 261.3L290.9 261.0L291.3 260.7L291.7 260.5L292.1 260.3L292.4 260.2L292.7 260.1L292.9 260.0L293.2 259.9L293.5 259.8L293.7 259.7L294.0 259.5L294.3 259.4Z" fill="#2e2e2e"/>
<path d="M299.4 253.9L286 248L278.2 251.2L288.5 256L293 258L290.2 262L286.3 270.8L294.3 266.8Z" fill="#2e2e2e"/>
<path d="M765.6 462.5L750 466.4L749.1 470L752 473.5L757 476.5L760.8 474.2L763.2 484.7L768.3 477.2L766.8 468.8Z" fill="#2e2e2e"/>
</g>
<g id="unknowns">
<ellipse cx="325.3" cy="248.2" rx="26.4" ry="27.7" fill="#fafafa" stroke="#2e2e2e" stroke-width="3.2" stroke-linecap="round" stroke-dasharray="3.5 5.7"/>
<text transform="translate(324.3 263.6) scale(0.66 1)" font-family="'Liberation Sans', sans-serif" font-weight="bold" font-size="48.2" text-anchor="middle" fill="#2e2e2e" stroke="#2e2e2e" stroke-width="0.6">?</text>
<ellipse cx="776.4" cy="442.8" rx="22.4" ry="23.7" fill="#fafafa" stroke="#2e2e2e" stroke-width="3.2" stroke-linecap="round" stroke-dasharray="3.5 5.7"/>
<text transform="translate(777.1 457.7) scale(0.66 1)" font-family="'Liberation Sans', sans-serif" font-weight="bold" font-size="48.2" text-anchor="middle" fill="#2e2e2e" stroke="#2e2e2e" stroke-width="0.6">?</text>
</g>
<g id="dims">
<path d="M168.7 -2L168.7 311" fill="none" stroke="#2e2e2e" stroke-width="3.7" />
<path d="M168.7 316L174.4 310.4L174.4 306.1L170.6 309.7L166.8 309.7L163 306.1L163 310.4Z" fill="#2e2e2e"/>
<path d="M514.6 76L514.6 130" fill="none" stroke="#2e2e2e" stroke-width="3.3" />
<path d="M514.6 71.9L520.4 78.4L520.4 81.8L516.3 77.8L512.9 77.8L508.8 81.8L508.8 78.4Z" fill="#2e2e2e"/>
<path d="M514.6 133.9L520.4 127.4L520.4 124L516.3 128L512.9 128L508.8 124L508.8 127.4Z" fill="#2e2e2e"/>
</g>
</svg>
</body>
</html>
